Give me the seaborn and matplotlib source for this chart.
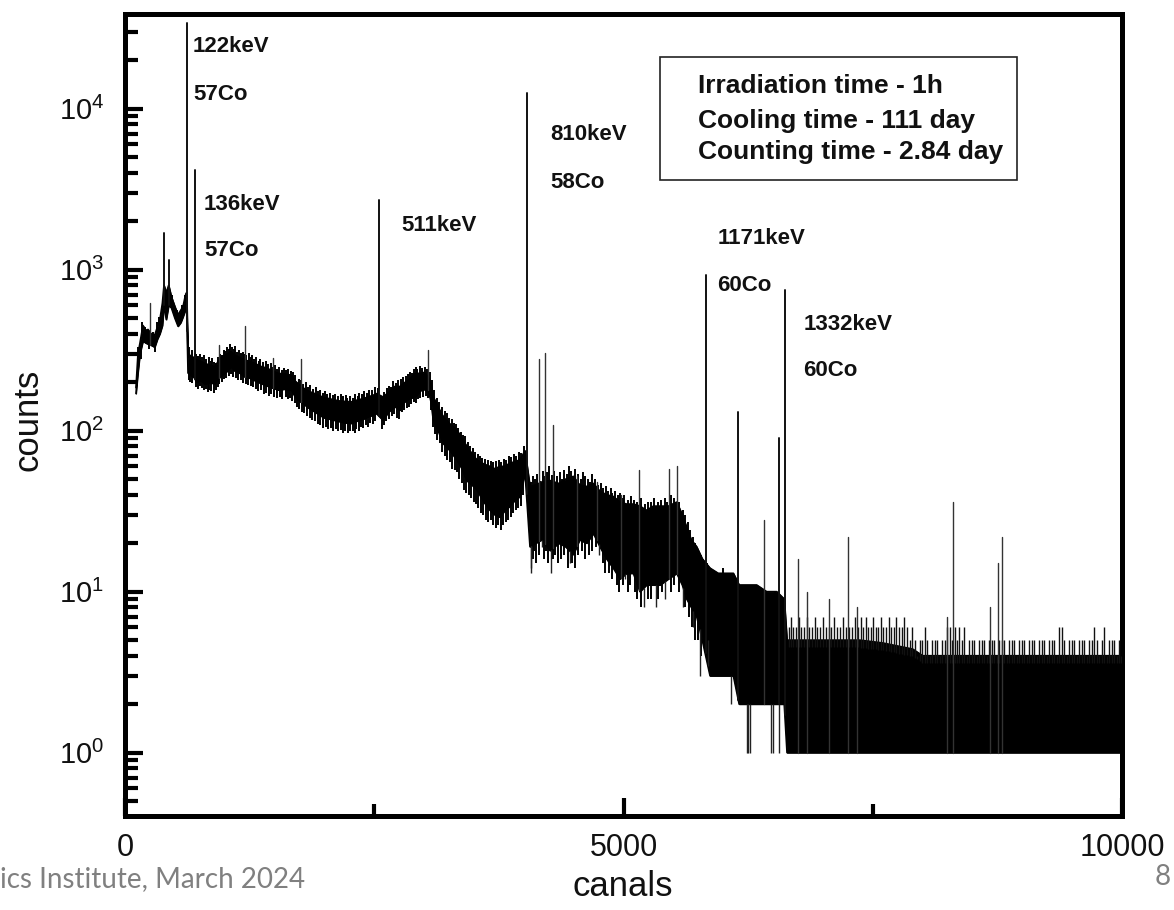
import numpy as np
import pandas as pd
import matplotlib
matplotlib.use("Agg")
import matplotlib.pyplot as plt
import seaborn as sns
from matplotlib.ticker import LogLocator, FixedLocator, NullFormatter, FixedFormatter
from matplotlib.patches import Rectangle

# ---------------- data ----------------
# continuum band (lower / upper envelope of the noisy spectrum)
env_ch = [110, 130, 150, 180, 210, 231, 260, 298, 325, 350, 375, 391, 414, 438, 465, 500, 532, 560, 582, 605, 618,
          632, 660, 690, 720, 760, 800, 850, 903, 950, 1000, 1033, 1063, 1100, 1150, 1200, 1250, 1300, 1367, 1420,
          1480, 1535, 1600, 1669, 1700, 1735, 1800, 1850, 1902, 1950, 2000, 2050, 2103, 2150, 2200, 2270, 2330,
          2390, 2437, 2490, 2521, 2588, 2640, 2705, 2758, 2800, 2850, 2909, 2972, 3000, 3042, 3070, 3092, 3140,
          3193, 3260, 3327, 3380, 3427, 3480, 3528, 3600, 3661, 3710, 3761, 3810, 3862, 3910, 3962, 4012,
          4062, 4120, 4180, 4263, 4350, 4420, 4497, 4560, 4630, 4698, 4764, 4830, 4898, 4965, 5030, 5099, 5165,
          5230, 5300, 5366, 5450, 5534, 5590, 5634, 5680, 5734, 5790, 5868, 5950, 6020, 6102, 6160, 6220, 6336,
          6436, 6537, 6612, 6640, 6750, 7000, 7370, 7600, 7900, 8000, 9000, 10000]
env_lo = [170, 230, 300, 360, 350, 345, 340, 330, 370, 400, 450, 600, 490, 600, 580, 500, 445, 470, 510, 560, 600,
          228, 220, 215, 200, 205, 195, 198, 196, 215, 228, 236, 250, 235, 228, 216, 212, 205, 196, 190,
          184, 179, 181, 179, 165, 155, 145, 137, 131, 125, 120, 118, 116, 114, 112, 111, 115,
          118, 122, 125, 128, 116, 130, 141, 134, 150, 158, 162, 179, 180, 179, 150, 116, 100,
          83, 75, 66, 58, 49, 46, 43, 36, 32, 30, 29, 32, 34, 37, 39, 55,
          19, 20, 21, 18, 20, 19, 17, 21, 20, 23, 19, 16, 14, 12, 13, 13, 10,
          11, 11, 11, 12, 13, 11, 9, 8, 7, 5, 3, 3, 3, 3, 2, 2, 2,
          2, 2, 2, 1, 1, 1, 1, 1, 1, 1, 1, 1]
env_hi = [185, 300, 350, 450, 420, 425, 400, 392, 440, 490, 620, 800, 720, 800, 680, 590, 525, 560, 590, 690, 720,
          302, 290, 285, 275, 270, 262, 255, 250, 280, 295, 302, 310, 295, 285, 274, 270, 262, 250, 245,
          235, 227, 225, 221, 205, 196, 182, 175, 170, 165, 160, 158, 155, 153, 152, 151, 155,
          158, 162, 166, 170, 162, 172, 188, 188, 198, 207, 227, 227, 230, 216, 195, 162, 140,
          122, 110, 101, 90, 80, 72, 66, 62, 60, 58, 60, 60, 63, 64, 66, 75,
          45, 46, 48, 49, 47, 50, 52, 46, 45, 47, 42, 40, 39, 36, 35, 35, 34,
          32, 34, 34, 34, 36, 30, 25, 21, 19, 16, 14, 13, 13, 13, 11, 11, 11,
          10, 10, 9, 5, 5, 5, 5, 4.8, 4.4, 4.0, 4.0, 4.0]

# photo peaks (channel, top counts)
peak_ch = [391, 438, 625, 699, 2551, 4032, 5824, 6620, 6152, 6563]
peak_top = [1700, 1145, 34000, 4130, 2700, 12500, 927, 748, 131, 90]

# smaller single-channel spikes
spike_ch = [254, 946, 1204, 1481, 1762, 3036, 4153, 4216, 4296, 4530, 4731, 4972, 5159, 5460, 5540,
            6413, 6753, 6844, 7061, 7255, 7345, 8242, 8308, 8676, 8753, 8793]
spike_top = [618, 340, 446, 283, 280, 317, 277, 304, 108, 52, 48, 40, 57, 58, 60,
             28, 16, 10, 9, 22, 8, 7, 36, 8, 15, 22]

# downward excursions
dip_ch = [4069, 4072, 4180, 4273, 4463, 4750, 4900, 5020, 5203, 5323, 5420, 5600, 5700, 5767, 5851,
          5990, 6080, 6235, 6250, 6270, 6476, 6500, 6560]
dip_val = [13, 14, 19, 13, 15, 17, 14, 12, 8, 8, 9, 8, 6, 3, 5,
           3, 2, 1, 1, 1, 1, 1, 1]

# noise hairs on the upper edge of the band
hair_up_ch = [130, 175, 205, 280, 320, 345, 470, 520, 570, 600,
              645, 668, 700, 712, 735, 752, 770, 795, 812, 838, 860, 872, 895, 915, 937, 955, 968, 990, 1008,
              1026, 1045, 1058, 1072, 1092, 1106, 1125, 1140, 1160, 1182, 1195, 1215, 1240, 1260, 1275, 1295,
              1315, 1340, 1355, 1385, 1410, 1430, 1460, 1475, 1500, 1525, 1545, 1570, 1590, 1615, 1635, 1660,
              1685, 1710, 1745, 1770, 1790, 1815, 1840, 1860, 1890, 1915, 1940, 1960, 1985, 2010, 2030, 2060,
              2090, 2110, 2140, 2165, 2190, 2215, 2230, 2260, 2285, 2310, 2340, 2350, 2380, 2400, 2425, 2450,
              2480, 2505, 2535, 2600, 2625, 2650, 2665, 2690, 2715, 2740, 2770, 2790, 2815, 2840, 2860, 2875,
              2895, 2920, 2930, 2955, 2980, 3005, 3025, 3055,
              3080, 3100, 3125, 3150, 3180, 3205, 3225, 3250, 3275, 3300, 3320, 3345, 3370, 3395, 3410, 3440,
              3465, 3490, 3515, 3540, 3560, 3585, 3610, 3640, 3670, 3695, 3720, 3750, 3775, 3800, 3825, 3850,
              3875, 3900, 3925, 3950, 3975, 4000,
              4075, 4095, 4110, 4135, 4160, 4190, 4210, 4235, 4250, 4280, 4300, 4330, 4360, 4380, 4400, 4430,
              4450, 4475, 4510, 4540, 4570, 4590, 4615, 4640, 4660, 4685, 4710, 4745, 4775, 4795, 4820, 4845,
              4870, 4885, 4915, 4940, 4960, 4990, 5010, 5045, 5075, 5110, 5140, 5180, 5215, 5245, 5280, 5310,
              5350, 5380, 5420, 5440, 5480, 5510, 5560, 5600, 5620, 5650, 5670, 5700, 5720, 5750, 5775, 5800,
              5840, 5880, 5920, 5960, 6000, 6040, 6080, 6120, 6180, 6240, 6300, 6360, 6400, 6450, 6520, 6580]
hair_up_val = [330, 470, 440, 410, 470, 510, 700, 560, 600, 700,
               330, 318, 305, 300, 292, 300, 288, 295, 280, 286, 270, 282, 268, 262, 285, 300, 296, 318, 312,
               330, 322, 345, 330, 320, 335, 310, 318, 302, 306, 300, 296, 305, 288, 296, 280,
               286, 272, 280, 268, 270, 258, 262, 250, 255, 240, 248, 238, 246, 238, 242, 236,
               230, 222, 210, 205, 196, 200, 188, 192, 182, 186, 176, 180, 172, 176, 168, 172,
               166, 170, 164, 168, 163, 166, 160, 165, 160, 168, 165, 172, 170, 176, 172, 180,
               178, 186, 185, 175, 184, 190, 186, 202, 198, 205, 210, 214, 218, 225, 232, 228,
               242, 248, 240, 252, 246, 250, 240, 232,
               205, 178, 160, 150, 140, 132, 128, 120, 118, 112, 110, 104, 98, 94, 92, 85,
               80, 78, 74, 72, 70, 68, 67, 66, 65, 64, 65, 66, 64, 67, 66, 70,
               69, 72, 70, 74, 73, 80,
               48, 52, 50, 54, 49, 56, 52, 55, 60, 53, 56, 52, 55, 50, 57, 54,
               60, 56, 58, 54, 50, 55, 52, 50, 48, 54, 50, 46, 47, 44, 45, 42,
               44, 41, 42, 40, 41, 38, 40, 37, 39, 37, 36, 38, 35, 36, 36, 38,
               36, 37, 38, 36, 40, 38, 36, 32, 30, 27, 24, 22, 20, 18, 17, 16,
               15, 13, 12, 11, 14, 12, 12, 10, 10, 11, 10, 9, 10, 9, 10, 9]

# noise hairs on the lower edge of the band
hair_dn_ch = [160, 240, 300,
              640, 655, 675, 710, 730, 748, 770, 790, 810, 828, 845, 862, 890, 910, 930, 945, 970, 990, 1015,
              1045, 1060, 1085, 1110, 1135, 1160, 1185, 1210, 1235, 1260, 1285, 1310, 1335, 1360, 1390, 1410,
              1440, 1465, 1495, 1520, 1550, 1575, 1610, 1630, 1655, 1680, 1710, 1725, 1750, 1775, 1800, 1830,
              1855, 1880, 1910, 1935, 1960, 1990, 2015, 2040, 2065, 2090, 2115, 2140, 2165, 2185, 2210, 2235,
              2260, 2290, 2305, 2320, 2345, 2365, 2390, 2415, 2440, 2460, 2485, 2505, 2575, 2600, 2620, 2650,
              2675, 2700, 2725, 2750, 2775, 2800, 2825, 2850, 2870, 2895, 2915, 2935, 2960, 2990, 3015, 3035,
              3065, 3085, 3105, 3130, 3155, 3180, 3205, 3230, 3255, 3280, 3305, 3330, 3355, 3380, 3400, 3425,
              3450, 3470, 3500, 3520, 3545, 3570, 3595, 3620, 3645, 3670, 3695, 3720, 3745, 3770, 3795, 3820,
              3845, 3870, 3895, 3920, 3945, 3970, 3990,
              4090, 4105, 4125, 4150, 4200, 4225, 4245, 4290, 4315, 4340, 4375, 4400, 4440, 4480, 4515, 4540,
              4580, 4610, 4650, 4680, 4720, 4790, 4810, 4850, 4880, 4930, 4950, 4990, 5050, 5070, 5120, 5140,
              5180, 5250, 5280, 5350, 5390, 5480, 5510, 5560, 5620, 5660, 5690, 5720, 5750, 5780]
hair_dn_val = [280, 320, 310,
               205, 200, 198, 188, 182, 190, 185, 178, 182, 175, 180, 176, 172, 180, 188, 195, 200, 208, 212,
               218, 225, 215, 212, 205, 205, 198, 195, 192, 190, 186, 182, 176, 178, 170, 172,
               165, 168, 162, 160, 162, 158, 162, 158, 160, 152, 148, 140, 136, 130, 128, 124,
               120, 116, 115, 110, 108, 104, 106, 102, 104, 100, 102, 99, 101, 97, 100, 96,
               99, 100, 97, 103, 100, 106, 104, 108, 106, 112, 110, 115, 102, 108, 114, 118,
               124, 126, 120, 118, 130, 134, 138, 140, 146, 150, 148, 158, 160, 162, 165, 160,
               135, 105, 95, 88, 84, 74, 70, 66, 64, 58, 57, 55, 50, 47, 43, 41,
               40, 38, 36, 35, 33, 31, 30, 28, 27, 28, 26, 25, 26, 24, 26, 27,
               28, 29, 31, 32, 33, 34, 40,
               16, 18, 15, 17, 16, 18, 15, 16, 17, 15, 16, 17, 14, 15, 14, 17,
               18, 16, 17, 18, 19, 15, 13, 13, 12, 11, 10, 11, 10, 11, 10, 9,
               8, 9, 9, 9, 10, 10, 11, 10, 8, 7, 6, 5, 5, 4]

# counting-noise spikes in the high-channel tail
tail_ch = [6655, 6680, 6705, 6730, 6760, 6785, 6810, 6840, 6865, 6890, 6920, 6945, 6975, 7000, 7030, 7060,
           7085, 7110, 7140, 7170, 7200, 7230, 7260, 7290, 7320, 7350,
           7380, 7405, 7430, 7455, 7480, 7505, 7530, 7555, 7580, 7605, 7630, 7660, 7685, 7710, 7735, 7760,
           7790, 7815, 7840, 7870, 7895,
           7920, 7945, 7970, 7995, 8020, 8045, 8070, 8095, 8120, 8145, 8170, 8195, 8220, 8245, 8270, 8295,
           8320, 8345, 8370, 8395, 8420, 8445, 8470, 8495, 8520, 8545, 8570, 8595, 8620, 8645, 8670, 8695,
           8720, 8745, 8770, 8795, 8820, 8845, 8870, 8895, 8920, 8945, 8970, 8995, 9020, 9045, 9070, 9095,
           9120, 9145, 9170, 9195, 9220, 9245, 9270, 9295, 9320, 9345, 9370, 9395, 9420, 9445, 9470, 9495,
           9520, 9545, 9570, 9595, 9620, 9645, 9670, 9695, 9720, 9745, 9770, 9795, 9820, 9845, 9870, 9895,
           9920, 9945, 9970, 9990]
tail_top = [6, 7, 6, 6, 7, 6, 6, 7, 6, 6, 7, 6, 6, 7, 6, 6,
            6, 7, 6, 6, 7, 6, 6, 6, 7, 6,
            7, 6, 7, 6, 6, 7, 6, 6, 7, 6, 6, 7, 6, 6, 7, 6,
            6, 7, 6, 5, 6,
            5, 4, 5, 5, 6, 5, 4, 5, 5, 5, 4, 5, 5, 6, 6, 5,
            6, 5, 6, 5, 6, 4, 5, 5, 5, 4, 5, 5, 5, 4, 5, 5,
            5, 4, 5, 5, 5, 4, 5, 5, 5, 4, 5, 5, 5, 4, 5, 5,
            5, 4, 5, 5, 5, 4, 5, 5, 5, 4, 6, 6, 5, 4, 5, 5,
            5, 4, 5, 5, 5, 4, 5, 5, 6, 5, 4, 5, 6, 4, 5, 5,
            5, 4, 5, 4]

# annotations
label_text = ["122keV", "57Co", "136keV", "57Co", "511keV", "810keV", "58Co",
              "1171keV", "60Co", "1332keV", "60Co"]
label_ch = [682, 682, 792, 792, 2775, 4270, 4270, 5941, 5941, 6804, 6804]
label_y = [24500, 12300, 2550, 1306, 1877, 6870, 3470, 1567, 792, 454, 238]
info_lines = ["Irradiation time - 1h", "Cooling time - 111 day", "Counting time - 2.84 day"]

x_ticks = [0, 5000, 10000]
x_ticklabels = ["0", "5000", "10000"]

# ---------------- drawing ----------------
sns.set_theme(style="white")
plt.rcParams['font.family'] = ['Liberation Sans', 'DejaVu Sans']
plt.rcParams['mathtext.fontset'] = 'custom'
plt.rcParams['mathtext.rm'] = 'Liberation Sans'
plt.rcParams['mathtext.it'] = 'Liberation Sans:italic'
plt.rcParams['mathtext.bf'] = 'Liberation Sans:bold'

W, H = 1174, 910
fig = plt.figure(figsize=(W / 100, H / 100), dpi=100)
fig.patch.set_facecolor('white')
ax = fig.add_axes([125 / W, 1 - 816 / H, 997 / W, 802.5 / H])
ax.set_facecolor('white')
ax.set_yscale('log')

env_ch_a = np.array(env_ch, float)
env_lo_a = np.array(env_lo, float)
env_hi_a = np.array(env_hi, float)

# continuum band
ax.fill_between(env_ch_a, env_lo_a, env_hi_a, color='black', lw=0.8, edgecolor='black', zorder=2)
sns.lineplot(x=env_ch, y=env_hi, color='black', lw=1.2, ax=ax, zorder=3)
sns.lineplot(x=env_ch, y=env_lo, color='black', lw=1.2, ax=ax, zorder=3)


def lo_at(c):
    return np.interp(c, env_ch_a, env_lo_a)


def hi_at(c):
    return np.interp(c, env_ch_a, env_hi_a)


# noise hairs
ax.vlines(hair_up_ch, [hi_at(c) * 0.95 for c in hair_up_ch], hair_up_val, color='black', lw=1.4, zorder=3)
ax.vlines(hair_dn_ch, hair_dn_val, [lo_at(c) * 1.05 for c in hair_dn_ch], color='black', lw=1.4, zorder=3)
ax.vlines(dip_ch, dip_val, [lo_at(c) for c in dip_ch], color='#222222', lw=1.0, zorder=3)
ax.vlines(tail_ch, [hi_at(c) * 0.9 for c in tail_ch], tail_top, color='#111111', lw=1.0, zorder=3)

# spikes and peaks through seaborn (each as a vertical segment)
rows = []
for i, (c, t) in enumerate(zip(spike_ch, spike_top)):
    rows.append(dict(ch=c, counts=lo_at(c), unit=f"s{i}"))
    rows.append(dict(ch=c, counts=t, unit=f"s{i}"))
spk = pd.DataFrame(rows)
sns.lineplot(data=spk, x='ch', y='counts', units='unit', estimator=None, sort=False,
             color='#333333', lw=1.0, ax=ax, zorder=4)
rows = []
for i, (c, t) in enumerate(zip(peak_ch, peak_top)):
    rows.append(dict(ch=c, counts=lo_at(c), unit=f"p{i}"))
    rows.append(dict(ch=c, counts=t, unit=f"p{i}"))
pk = pd.DataFrame(rows)
sns.lineplot(data=pk, x='ch', y='counts', units='unit', estimator=None, sort=False,
             color='#111111', lw=1.4, ax=ax, zorder=5)

ax.set_xlim(0, 10000)
ax.set_ylim(0.404, 39000)

# peak labels
for t, c, yv in zip(label_text, label_ch, label_y):
    ax.text(c, yv, t, fontsize=16, fontweight='bold', ha='left', va='center', color='#111111', zorder=6)

# info box
ax.add_patch(Rectangle((0.537, 0.7925), 0.358, 0.1535, transform=ax.transAxes, fill=False,
                       edgecolor='#222222', lw=1.2, zorder=6))
for t, yf in zip(info_lines, [0.910, 0.866, 0.828]):
    ax.text(0.575, yf, t, transform=ax.transAxes, fontsize=19, fontweight='bold',
            ha='left', va='center', color='#111111', zorder=7)

# spines
for s in ax.spines.values():
    s.set_linewidth(3.6)
    s.set_color('black')

# ticks
ax.xaxis.set_major_locator(FixedLocator(x_ticks))
ax.xaxis.set_major_formatter(FixedFormatter(x_ticklabels))
ax.xaxis.set_minor_locator(FixedLocator([2500, 7500]))
ax.xaxis.set_minor_formatter(NullFormatter())
ax.yaxis.set_major_locator(LogLocator(base=10, numticks=10))
ax.yaxis.set_minor_locator(LogLocator(base=10, subs=np.arange(2, 10), numticks=20))
ax.yaxis.set_minor_formatter(NullFormatter())
ax.tick_params(axis='both', which='major', direction='in', length=13, width=3, color='black',
               top=False, right=False, bottom=True, left=True)
ax.tick_params(axis='both', which='minor', direction='in', length=9, width=3, color='black',
               top=False, right=False, bottom=True, left=True)
ax.tick_params(axis='x', which='major', labelsize=22, pad=12, labelcolor='#111111')
ax.tick_params(axis='y', which='major', labelsize=21, pad=15, labelcolor='#111111')
ax.grid(False)
ax.set_xlabel('')
ax.set_ylabel('')

fig.text(28 / W, 1 - 420 / H, 'counts', rotation=90, fontsize=25, ha='center', va='center', color='#111111')
fig.text(623 / W, 1 - 886 / H, 'canals', fontsize=25, ha='center', va='center', color='#111111')

# slide footer remnants
fig.text(0 / W, 1 - 879 / H, 'ics Institute, March 2024', fontsize=20, family='Lato',
         ha='left', va='center', color='#808080')
fig.text(1155 / W, 1 - 877 / H, '8', fontsize=20, family='Lato', ha='left', va='center', color='#808080')

fig.savefig('out.png', dpi=100, facecolor='white')
